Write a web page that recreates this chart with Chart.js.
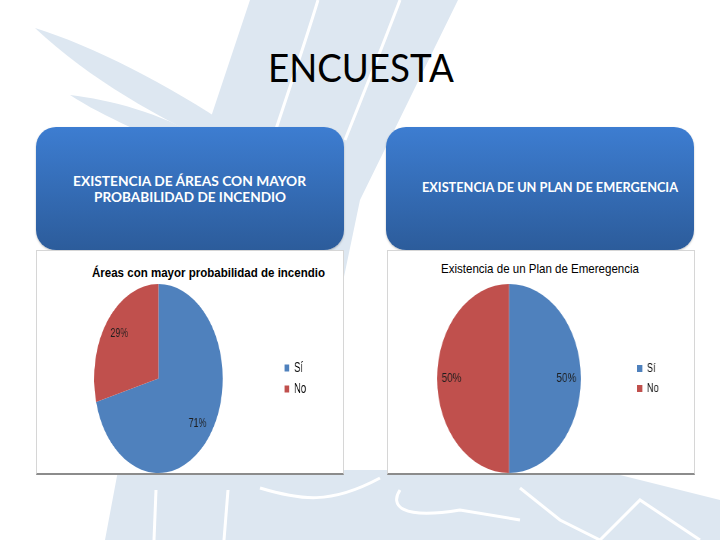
<!DOCTYPE html>
<html>
<head>
<meta charset="utf-8">
<script src="https://cdn.jsdelivr.net/npm/chart.js@4.4.1/dist/chart.umd.min.js"></script>
<style>
  body { margin: 0; width: 720px; height: 540px; position: relative; overflow: hidden; background: #fff; }
  .bg { position: absolute; left: 0; top: 0; }
  .fit { position: absolute; white-space: nowrap; line-height: 1; transform-origin: 0 0; }
  .slide-title { font-family: Lato, 'Open Sans', sans-serif; font-size: 39px; color: #000; }
  .head { position: absolute; top: 127px; width: 308px; height: 123px; border-radius: 20px;
          background: linear-gradient(to bottom, #3d7dd1, #2c5c9b); box-shadow: 0 1px 2px rgba(0,0,0,.25); }
  .head-text { font-family: Lato, sans-serif; font-weight: bold; font-size: 13px; color: #fff; }
  .panel { position: absolute; top: 250px; height: 225px; box-sizing: border-box; background: #fff;
           border: 1px solid #d6d6d6; border-bottom: 2px solid #8c8c8c; }
  .chart-title { font-family: 'Liberation Sans', Arial, sans-serif; color: #000; }
  .wrap { position: absolute; top: 250px; transform-origin: 0 0; }
</style>
</head>
<body>
<svg class="bg" width="720" height="540">
  <g fill="#dde7f1">
    <path d="M35,28 C90,45 170,85 232,128 L226,150 C160,118 90,80 35,28 Z"/>
    <path d="M70,95 C110,100 160,112 205,140 L200,160 C150,135 105,118 70,95 Z"/>
    <path d="M250,0 L458,0 L360,200 L310,440 L300,540 L105,540 L150,300 Z"/>
    <path d="M290,470 L600,470 L720,500 L720,540 L290,540 Z"/>
  </g>
  <g stroke="#fff" stroke-width="3" fill="none">
    <path d="M318,0 C300,60 268,150 240,240"/>
    <path d="M400,0 C385,40 365,90 345,140"/>
    <path d="M156,490 L154,540"/>
    <path d="M228,490 L224,540"/>
    <path d="M260,488 C300,500 330,505 380,478"/>
    <path d="M400,490 C390,505 400,520 460,510 L520,520"/>
    <path d="M520,488 L560,520 L600,540"/>
    <path d="M600,540 L640,500 L700,540"/>
  </g>
</svg>

<div id="mainTitle" class="fit slide-title" style="left:268px; top:48px">ENCUESTA</div>

<div class="head" style="left:36px"></div>
<div class="head" style="left:386px"></div>
<div id="h1a" class="fit head-text" style="left:73px; top:175px">EXISTENCIA DE ÁREAS CON MAYOR</div>
<div id="h1b" class="fit head-text" style="left:94px; top:191px">PROBABILIDAD DE INCENDIO</div>
<div id="h2" class="fit head-text" style="left:422px; top:181px">EXISTENCIA DE UN PLAN DE EMERGENCIA</div>

<div class="panel" style="left:36px; width:308px"></div>
<div class="panel" style="left:387px; width:308px"></div>
<div id="t1" class="fit chart-title" style="left:92px; top:266px; font-size:13.5px; font-weight:bold"></div>
<div id="t2" class="fit chart-title" style="left:441px; top:263px; font-size:12.6px"></div>

<div class="wrap" id="w1" style="left:37px; transform:scaleX(0.68)"><canvas id="c1" width="450" height="224"></canvas></div>
<div class="wrap" id="w2" style="left:387px; transform:scaleX(0.76)"><canvas id="c2" width="404" height="224"></canvas></div>

<script>
// chart data
const labels = ['Sí', 'No'];
const areasValues = [71, 29];
const planValues = [50, 50];
const sliceColors = ['#4f81bd', '#c0504d'];
const areasTitle = 'Áreas con mayor probabilidad de incendio';
const planTitle = 'Existencia de un Plan de Emeregencia';

document.getElementById('t1').textContent = areasTitle;
document.getElementById('t2').textContent = planTitle;

// squeeze text to the width it has on the slide
function fitWidth(id, w) {
    const el = document.getElementById(id);
    const r = el.getBoundingClientRect().width;
    el.style.transform = 'scaleX(' + (w / r) + ')';
}
fitWidth('mainTitle', 186);
fitWidth('h1a', 233);
fitWidth('h1b', 192);
fitWidth('h2', 256);
fitWidth('t1', 233);
fitWidth('t2', 198);

Chart.defaults.font.family = "'Liberation Sans', Arial, sans-serif";
Chart.defaults.color = '#000';

// percentage labels inside the slices
const pctLabels = {
    id: 'pctLabels',
    afterDatasetsDraw(chart, args, opts) {
        const ctx = chart.ctx;
        const meta = chart.getDatasetMeta(0);
        const values = chart.data.datasets[0].data;
        ctx.save();
        ctx.font = '13px ' + Chart.defaults.font.family;
        ctx.fillStyle = '#1e1e1e';
        ctx.textAlign = 'center';
        ctx.textBaseline = 'middle';
        meta.data.forEach((arc, i) => {
            const p = arc.getProps(['x', 'y', 'startAngle', 'endAngle', 'outerRadius'], true);
            const a = (p.startAngle + p.endAngle) / 2;
            const r = p.outerRadius * opts.dist;
            ctx.fillText(values[i] + '%', p.x + Math.cos(a) * r, p.y + Math.sin(a) * r);
        });
        ctx.restore();
    }
};

function pieConfig(values, legendFont, legendPad, legendMax, padRight, dist) {
    return {
        type: 'pie',
        data: {
            labels: labels,
            datasets: [{
                data: values,
                backgroundColor: sliceColors,
                borderWidth: 0
            }]
        },
        options: {
            responsive: false,
            animation: false,
            devicePixelRatio: 1,
            layout: {
                padding: { left: 0, right: padRight, top: 34, bottom: 1 }
            },
            plugins: {
                legend: {
                    position: 'right',
                    maxWidth: legendMax,
                    labels: {
                        boxWidth: 7,
                        boxHeight: 7,
                        padding: legendPad,
                        font: { size: legendFont }
                    }
                },
                title: { display: false },
                tooltip: { enabled: false },
                pctLabels: { dist: dist }
            }
        },
        plugins: [pctLabels]
    };
}

new Chart(document.getElementById('c1'), pieConfig(areasValues, 14, 7, 46, 47, 0.77));
new Chart(document.getElementById('c2'), pieConfig(planValues, 12, 8, 44, 39, 0.8));
</script>
</body>
</html>
